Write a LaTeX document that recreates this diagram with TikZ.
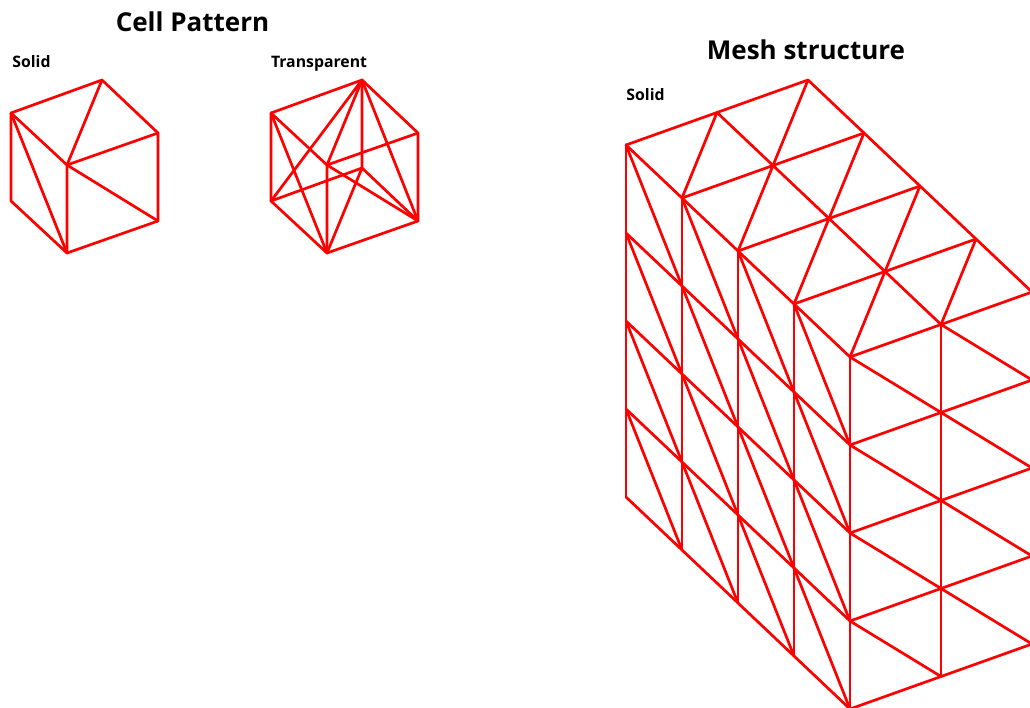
\documentclass[tikz,border=0pt]{standalone}
\usepackage{fontspec}
\setmainfont{Open Sans}

\newcommand*{\xmax}{1030}
\newcommand*{\ymax}{708}

\begin{document}
\begin{tikzpicture}
[
	x=1pt,y=-1pt,
	edge/.style={red,line width=2.7pt,line join=round,line cap=round},
	title/.style={font=\fontsize{26}{28}\selectfont\bfseries,inner sep=0pt,anchor=base},
	label/.style={font=\fontsize{15.8}{18}\selectfont\bfseries,inner sep=0pt,anchor=base}
]

	\clip (0,0) rectangle (\xmax,\ymax);

	% texts
	\node[title] (celltitle) at (192.5,32) {Cell Pattern};
	\node[title] (meshtitle) at (806,60) {Mesh structure};
	\node[label] (solidcell) at (31.5,68) {Solid};
	\node[label] (transcell) at (319,68) {Transparent};
	\node[label] (solidmesh) at (645.5,100.5) {Solid};

	% solid cell
	\coordinate (a) at (11,113);
	\coordinate (b) at (102,80);
	\coordinate (c) at (158,133);
	\coordinate (d) at (67,165);
	\coordinate (e) at (11,201);
	\coordinate (f) at (67,253);
	\coordinate (g) at (158,221);

	\draw[edge] (a) -- (b) -- (c) -- (g) -- (f) -- (e) -- cycle;
	\draw[edge] (a) -- (d) -- (c);
	\draw[edge] (b) -- (d) -- (f);
	\draw[edge] (d) -- (g);
	\draw[edge] (a) -- (f);

	% transparent cell
	\coordinate (ta) at (271,113);
	\coordinate (tb) at (362,80);
	\coordinate (tc) at (418,133);
	\coordinate (td) at (327,165);
	\coordinate (te) at (271,201);
	\coordinate (tf) at (327,253);
	\coordinate (tg) at (418,221);
	\coordinate (th) at (362,168);

	\draw[edge] (ta) -- (tb) -- (tc) -- (tg) -- (tf) -- (te) -- cycle;
	\draw[edge] (ta) -- (td) -- (tc);
	\draw[edge] (tb) -- (td) -- (tf);
	\draw[edge] (td) -- (tg);
	\draw[edge] (ta) -- (tf);
	\draw[edge] (te) -- (tb) -- (th) -- (te);
	\draw[edge] (tb) -- (tg) -- (th) -- (tf);

	% mesh points
	\foreach \i in {0,...,4} {
		\foreach \j in {0,...,2} {
			\foreach \k in {0,...,4} {
				\coordinate (m\i\j\k) at ({626+\i*56+\j*91},{145+\i*53-\j*32.5+\k*88});
			}
		}
	}

	% mesh top
	\foreach \i [evaluate=\i as \ii using int(\i+1)] in {0,...,3} {
		\foreach \j [evaluate=\j as \jj using int(\j+1)] in {0,1} {
			\draw[edge] (m\i\j0) -- (m\ii\j0);
			\draw[edge] (m\i\j0) -- (m\i\jj0);
			\draw[edge] (m\ii\j0) -- (m\i\jj0);
		}
		\draw[edge] (m\i20) -- (m\ii20);
	}
	\draw[edge] (m400) -- (m420);

	% mesh left side
	\foreach \i [evaluate=\i as \ii using int(\i+1)] in {0,...,3} {
		\foreach \k [evaluate=\k as \kk using int(\k+1)] in {0,...,3} {
			\draw[edge] (m\i0\k) -- (m\i0\kk);
			\draw[edge] (m\i0\kk) -- (m\ii0\kk);
			\draw[edge] (m\i0\k) -- (m\ii0\kk);
		}
	}

	% mesh right side
	\draw[edge] (m400) -- (m404);
	\draw[edge] (m410) -- (m414);
	\foreach \j [evaluate=\j as \jj using int(\j+1)] in {0,1} {
		\foreach \k [evaluate=\k as \kk using int(\k+1)] in {0,...,3} {
			\draw[edge] (m4\j\kk) -- (m4\jj\kk);
			\draw[edge] (m4\j\k) -- (m4\jj\kk);
		}
	}

\end{tikzpicture}
\end{document}
